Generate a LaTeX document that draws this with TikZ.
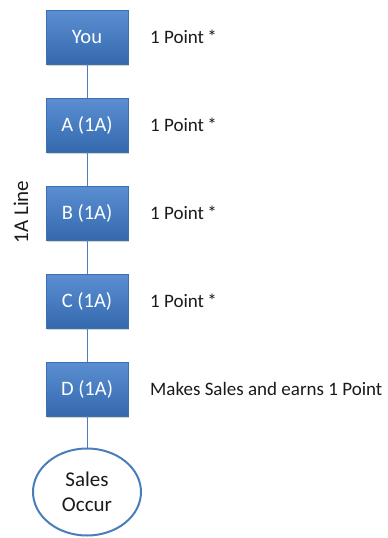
\documentclass[tikz,border=0pt]{standalone}
\usepackage{fontspec}
\setmainfont{Carlito}
\usetikzlibrary{shapes.geometric,shadows}
\definecolor{boxtop}{HTML}{5B8FD2}
\definecolor{boxbot}{HTML}{3569AE}
\definecolor{boxline}{HTML}{3E6FB0}
\definecolor{linkc}{HTML}{4A7EBB}
\definecolor{txt}{HTML}{1A1A1A}
\begin{document}
\begin{tikzpicture}[x=1pt,y=-1pt,
  bluebox/.style={rectangle,minimum width=82pt,minimum height=54pt,inner sep=0pt,
    top color=boxtop,bottom color=boxbot,draw=boxline,line width=0.6pt,
    text=white,font=\fontsize{20.5}{24}\selectfont,
    drop shadow={shadow xshift=1pt,shadow yshift=-1.5pt,opacity=0.35}},
  note/.style={anchor=west,inner sep=0pt,text=txt,font=\fontsize{19}{22}\selectfont},
  link/.style={draw=linkc,line width=1pt}]
\useasboundingbox (0,0) rectangle (388,538);
\node[bluebox] (you) at (87,37) {You};
\node[bluebox] (a) at (87,125) {A (1A)};
\node[bluebox] (b) at (87,213) {B (1A)};
\node[bluebox] (c) at (87,301) {C (1A)};
\node[bluebox] (d) at (87,389) {D (1A)};
\node[ellipse,draw=linkc,line width=2pt,fill=white,minimum width=108pt,minimum height=87pt,inner sep=0pt,
  text=txt,align=center,font=\fontsize{21}{25}\selectfont] (s) at (87,492) {Sales\\Occur};
\draw[link] (you) -- (a);
\draw[link] (a) -- (b);
\draw[link] (b) -- (c);
\draw[link] (c) -- (d);
\draw[link] (d) -- (s);
\node[note] (n1) at (150,37) {1 Point\,*};
\node[note] (n2) at (150,125) {1 Point\,*};
\node[note] (n3) at (150,213) {1 Point\,*};
\node[note] (n4) at (150,301) {1 Point\,*};
\node[note] (n5) at (150,389) {Makes Sales and earns 1 Point};
\node[rotate=90,inner sep=0pt,text=txt,font=\fontsize{21}{25}\selectfont] (lbl) at (21,212) {1A Line};
\end{tikzpicture}
\end{document}
